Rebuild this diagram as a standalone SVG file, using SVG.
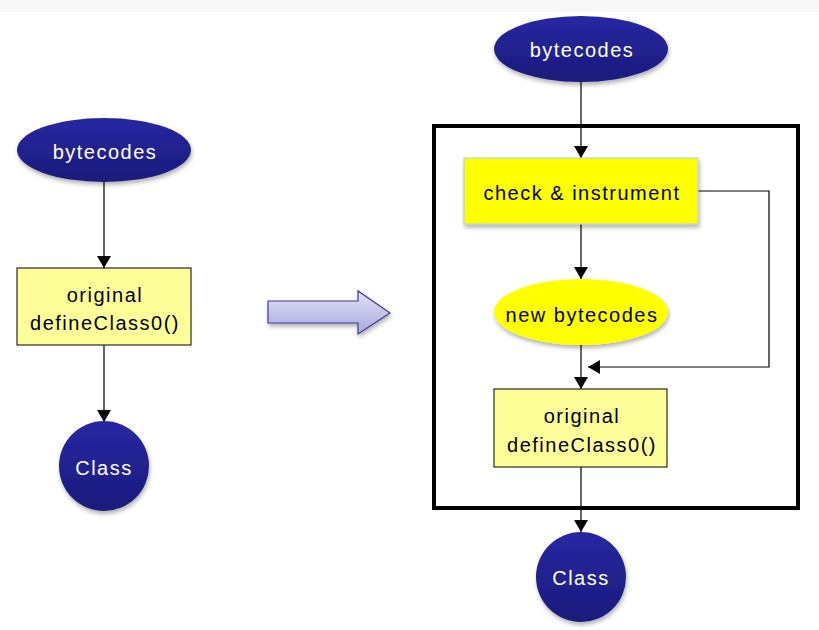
<svg xmlns="http://www.w3.org/2000/svg" width="819" height="630" viewBox="0 0 819 630">
<style>
text{font-family:"Liberation Sans",Arial,sans-serif;font-size:20px;letter-spacing:1.5px;text-anchor:middle}
.w{fill:#ffffff}
.k{fill:#000000}
.blue{fill:url(#gBlue);filter:url(#sh)}
.pale{fill:#ffff99;stroke:#000;stroke-width:1}
.yel{fill:#ffff00;filter:url(#sh)}
.ln{stroke:#000;stroke-width:1.2;fill:none}
</style>
<defs>
<linearGradient id="gBlue" x1="0" y1="0" x2="0" y2="1">
<stop offset="0" stop-color="#2727a3"/>
<stop offset="1" stop-color="#1b1b7a"/>
</linearGradient>
<linearGradient id="gArr" x1="0" y1="0" x2="0" y2="1">
<stop offset="0" stop-color="#e2e2f7"/>
<stop offset="1" stop-color="#a9a9de"/>
</linearGradient>
<filter id="sh" x="-20%" y="-20%" width="140%" height="150%">
<feDropShadow dx="1" dy="3" stdDeviation="2" flood-color="#000" flood-opacity="0.3"/>
</filter>
<marker id="ah" viewBox="0 0 12 14" refX="12" refY="7" markerWidth="12" markerHeight="14" markerUnits="userSpaceOnUse" orient="auto">
<path d="M0,0 L12,7 L0,14 Z" fill="#000"/>
</marker>
</defs>
<rect x="0" y="0" width="819" height="630" fill="#ffffff"/>
<rect x="0" y="0" width="819" height="12" fill="#f8f8f8"/>

<g id="frame">
<rect x="434" y="126" width="364" height="382" fill="none" stroke="#000" stroke-width="4"/>
</g>

<g id="connectors">
<line class="ln" x1="104" y1="182" x2="104" y2="268" marker-end="url(#ah)"/>
<line class="ln" x1="104" y1="345" x2="104" y2="422" marker-end="url(#ah)"/>
<line class="ln" x1="581" y1="82" x2="581" y2="158" marker-end="url(#ah)"/>
<line class="ln" x1="581" y1="224" x2="581" y2="279" marker-end="url(#ah)"/>
<polyline class="ln" points="698,191 769,191 769,367 588,367" marker-end="url(#ah)"/>
<line class="ln" x1="581" y1="345" x2="581" y2="389" marker-end="url(#ah)"/>
<line class="ln" x1="581" y1="467" x2="581" y2="532" marker-end="url(#ah)"/>
</g>

<g id="transform-arrow">
<path d="M268,301 L358,301 L358,291 L390,313 L358,334 L358,323 L268,323 Z" fill="url(#gArr)" stroke="#3a3a9a" stroke-width="1.2" filter="url(#sh)"/>
</g>

<g id="left-bytecodes">
<ellipse class="blue" cx="104" cy="150" rx="87" ry="32"/>
<text class="w" x="105" y="159">bytecodes</text>
</g>
<g id="left-define">
<rect class="pale" x="17" y="268" width="174" height="77"/>
<text class="k" x="105" y="302">original</text>
<text class="k" x="105" y="330">defineClass0()</text>
</g>
<g id="left-class">
<circle class="blue" cx="104" cy="466" r="45"/>
<text class="w" x="104" y="475">Class</text>
</g>

<g id="right-bytecodes">
<ellipse class="blue" cx="581" cy="49" rx="87" ry="33"/>
<text class="w" x="582" y="57">bytecodes</text>
</g>
<g id="check-instrument">
<rect class="yel" x="464" y="158" width="234" height="66" stroke="#a8d0e8" stroke-width="1"/>
<text class="k" x="582" y="200">check &amp; instrument</text>
</g>
<g id="new-bytecodes">
<ellipse class="yel" cx="581" cy="312" rx="87" ry="33"/>
<text class="k" x="582" y="322">new bytecodes</text>
</g>
<g id="right-define">
<rect class="pale" x="494" y="389" width="173" height="78"/>
<text class="k" x="582" y="423">original</text>
<text class="k" x="582" y="452">defineClass0()</text>
</g>
<g id="right-class">
<circle class="blue" cx="581" cy="577" r="45"/>
<text class="w" x="581" y="585">Class</text>
</g>
</svg>
